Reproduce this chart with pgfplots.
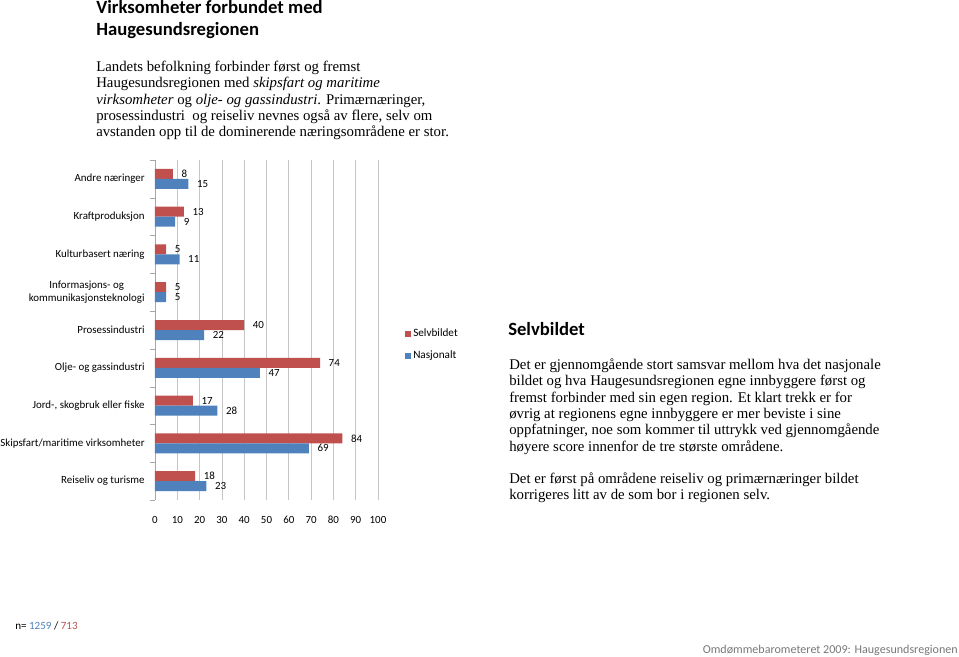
\documentclass[border=0pt]{standalone}
\usepackage{fontspec}
\setmainfont{Liberation Serif}
\newfontfamily\calib{Carlito}
\usepackage{pgfplots}
\pgfplotsset{compat=1.18}
\definecolor{cred}{RGB}{192,80,77}
\definecolor{cblue}{RGB}{79,129,189}
\definecolor{fgray}{RGB}{120,120,120}
\begin{document}
\begin{tikzpicture}
\begin{scope}[x=0.75pt,y=-0.75pt]
\tikzset{tl/.style={anchor=base west, inner sep=0pt, font=\calib\bfseries\fontsize{14}{16}\selectfont},
  bl/.style={anchor=base west, inner sep=0pt, font=\fontsize{11.1}{12}\selectfont}}
\node[tl] at (96,14) {Virksomheter forbundet med};
\node[tl] at (96,36) {Haugesundsregionen};
\node[bl] at (96,72) {Landets befolkning forbinder først og fremst};
\node[bl] at (96,88) {Haugesundsregionen med \textit{skipsfart og maritime}};
\node[bl] at (96,104.5) {\textit{virksomheter} og \textit{olje- og gassindustri}. Primærnæringer,};
\node[bl] at (96,121) {prosessindustri\ \ og reiseliv nevnes også av flere, selv om};
\node[bl] at (96,137) {avstanden opp til de dominerende næringsområdene er stor.};
\node[tl] at (508,335) {Selvbildet};
\node[bl] at (509,369) {Det er gjennomgående stort samsvar mellom hva det nasjonale};
\node[bl] at (509,385.5) {bildet og hva Haugesundsregionen egne innbyggere først og};
\node[bl] at (509,402) {fremst forbinder med sin egen region. Et klart trekk er for};
\node[bl] at (509,418) {øvrig at regionens egne innbyggere er mer beviste i sine};
\node[bl] at (509,434.5) {oppfatninger, noe som kommer til uttrykk ved gjennomgående};
\node[bl] at (509,451) {høyere score innenfor de tre største områdene.};
\node[bl] at (509,483) {Det er først på områdene reiseliv og primærnæringer bildet};
\node[bl] at (509,499) {korrigeres litt av de som bor i regionen selv.};
\node[anchor=base west, inner sep=0pt, font=\calib\fontsize{8.3}{9}\selectfont] at (15,629) {n= \textcolor{cblue}{1259} / \textcolor{cred}{713}};
\node[anchor=base east, inner sep=0pt, text=fgray, font=\calib\fontsize{9.05}{11}\selectfont] at (958,653) {Omdømmebarometeret 2009: Haugesundsregionen};
\end{scope}
\begin{axis}[
  at={(116.25pt,-375pt)}, anchor=south west,
  scale only axis, width=167.25pt, height=255pt,
  xmin=0, xmax=100, ymin=-0.5, ymax=8.5,
  xbar, bar width=7.5pt,
  xtick={0,10,...,100},
  xmajorgrids, grid style={gray!45, line width=0.6pt},
  ytick={0,...,8},
  yticklabels={Reiseliv og turisme, Skipsfart/maritime virksomheter, {Jord-, skogbruk eller fiske}, Olje- og gassindustri, Prosessindustri, {Informasjons- og\\kommunikasjonsteknologi}, Kulturbasert næring, Kraftproduksjon, Andre næringer},
  minor ytick={-0.5,0.5,...,8.5},
  major x tick style={draw=none}, major y tick style={draw=none},
  minor y tick style={draw=gray!70},
  tick align=outside, minor tick length=3.75pt,
  axis lines*=left,
  x axis line style={draw=none}, y axis line style={draw=gray!70},
  /pgf/number format/assume math mode=true,
  tick label style={font=\calib\fontsize{8.2}{9.5}\selectfont},
  x tick label style={yshift=-4.5pt},
  y tick label style={align=center},
  nodes near coords,
  every node near coord/.append style={anchor=west, xshift=3pt, font=\calib\fontsize{8.2}{9.5}\selectfont, text=black},
  legend style={at={(1.121,0.51)}, anchor=north west, draw=none, fill=none, font=\calib\fontsize{8.4}{9}\selectfont, row sep=6pt, inner sep=0pt, nodes={inner sep=1.5pt}},
  legend cell align=left,
]
\addplot[fill=cred, draw=none, bar shift=3.75pt, legend image code/.code={\fill[cred] (0pt,-2.25pt) rectangle (4.5pt,2.25pt);}] coordinates {
(18,0) (84,1) (17,2) (74,3) (40,4) (5,5) (5,6) (13,7) (8,8)};
\addlegendentry{Selvbildet}
\addplot[fill=cblue, draw=none, bar shift=-3.75pt, legend image code/.code={\fill[cblue] (0pt,-2.25pt) rectangle (4.5pt,2.25pt);}] coordinates {
(23,0) (69,1) (28,2) (47,3) (22,4) (5,5) (11,6) (9,7) (15,8)};
\addlegendentry{Nasjonalt}
\end{axis}
\pgfresetboundingbox
\path[use as bounding box] (0pt,0pt) rectangle (719.25pt,-492pt);
\end{tikzpicture}
\end{document}
